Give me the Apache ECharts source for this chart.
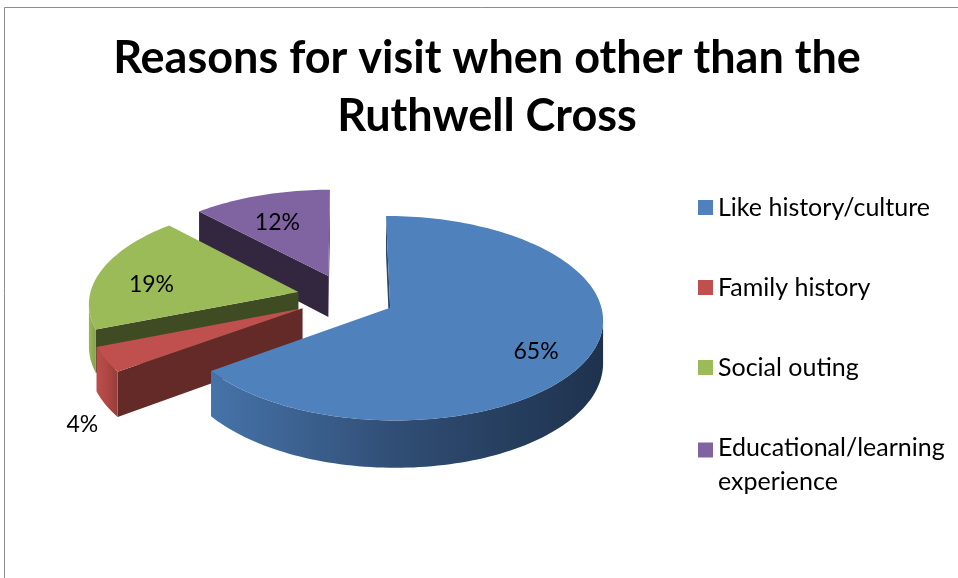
<!DOCTYPE html>
<html>
<head>
<meta charset="utf-8">
<script src="https://cdn.jsdelivr.net/npm/echarts@6/dist/echarts.min.js"></script>
<style>
  html, body { margin: 0; padding: 0; background: #fff; }
  #chart { width: 958px; height: 578px; }
</style>
</head>
<body>
<div id="chart"></div>
<script>
// Survey answers: share of visitors (%) per reason
const categories = ['Like history/culture', 'Family history', 'Social outing', 'Educational/learning experience'];
const shares = [65, 4, 19, 12];
const titleText = 'Reasons for visit when other than the\nRuthwell Cross';

// Face colours: top surface, cut (radial) faces, outer rim gradient
const topColors = ['#4F81BD', '#C0504D', '#9BBB59', '#8064A2'];
const cutColors = ['#2B476B', '#632A28', '#3F4B23', '#33263F'];
const rimColors = [
  ['#4673A9', '#2F4C72', '#1E324D'],
  ['#BC4E4B', '#AE4744', '#963D3A'],
  ['#99B958', '#8FAD52', '#84A04B'],
  ['#7560A0', '#5F4A7C', '#4A3A62']
];

// Tilted, slightly perspective view of the pie disc
const view = { cx: 346, cy: 297, r: 209, k: 0.4736, dist: 2050, depth: 42, explode: 49 };

function project(X, Y, Z) {
  const s = view.dist / (view.dist - Y);
  return [view.cx + X * s, view.cy + (Y * view.k - Z * view.depth) * s];
}

const total = shares.reduce((a, b) => a + b, 0);
const startAngles = [];
shares.reduce((acc, v, i) => { startAngles[i] = acc / total * 2 * Math.PI; return acc + v; }, 0);

function sliceRange(i) {
  return [startAngles[i], startAngles[i] + shares[i] / total * 2 * Math.PI];
}

// Back-to-front drawing order: the slice holding the front point goes last
const drawRank = (function () {
  const keys = shares.map((v, i) => {
    const [a0, a1] = sliceRange(i);
    const mid = (a0 + a1) / 2;
    const holdsFront = a0 <= Math.PI && a1 >= Math.PI;
    return holdsFront ? 10 : -Math.cos(mid);
  });
  const order = keys.map((k, i) => i).sort((a, b) => keys[a] - keys[b]);
  const rank = [];
  order.forEach((idx, r) => { rank[idx] = r; });
  return rank;
})();

function wrapName(name) {
  if (name.length <= 22) return name;
  const cut = name.lastIndexOf(' ', 22);
  return cut > 0 ? name.slice(0, cut) + '\n' + name.slice(cut + 1) : name;
}

// Legend markers: a square centred on one-line entries, beside the first line of wrapped ones
const LEGEND_BOX = 49;
const markerCentred = 'path://M0,0h15v15h-15zM0,-17M0,32';
const markerFirstLine = 'path://M0,0h15v15h-15zM0,-2.5M0,46.5';

function legendEntry(name) {
  if (wrapName(name) === name) return { name: name, icon: markerCentred };
  return { name: name, icon: markerFirstLine, textStyle: { padding: [15, 0, 0, 0] } };
}

function renderSlice(i) {
  const [a0, a1] = sliceRange(i);
  const mid = (a0 + a1) / 2;
  const ox = view.explode * Math.sin(mid);
  const oy = -view.explode * Math.cos(mid);
  const rimPt = (t, rr) => [ox + rr * Math.sin(t), oy - rr * Math.cos(t)];
  const n = Math.max(8, Math.ceil((a1 - a0) / (Math.PI / 120)));
  const ts = [];
  for (let j = 0; j <= n; j++) ts.push(a0 + (a1 - a0) * j / n);

  // a vertical face is visible when its outward normal points towards the eye
  const facing = (px, py, nx, ny) => nx * (0 - px) + ny * (view.dist - py) > 0;
  const children = [];

  // cut faces along the two radii
  [[a0, -1], [a1, 1]].forEach(([a, sgn]) => {
    const nx = sgn * Math.cos(a), ny = sgn * Math.sin(a);
    const [rx, ry] = rimPt(a, view.r);
    if (facing((ox + rx) / 2, (oy + ry) / 2, nx, ny)) {
      children.push({
        type: 'polygon',
        shape: { points: [project(ox, oy, 0), project(rx, ry, 0), project(rx, ry, -1), project(ox, oy, -1)] },
        style: { fill: cutColors[i] }
      });
    }
  });

  // outer rim, split into its visible runs
  let run = [];
  const flush = () => {
    if (run.length >= 2) {
      const upper = run.map(t => { const p = rimPt(t, view.r); return project(p[0], p[1], 0); });
      const lower = run.slice().reverse().map(t => { const p = rimPt(t, view.r); return project(p[0], p[1], -1); });
      const c = rimColors[i];
      children.push({
        type: 'polygon',
        shape: { points: upper.concat(lower) },
        style: {
          fill: new echarts.graphic.LinearGradient(0, 0, 1, 0, [
            { offset: 0, color: c[0] }, { offset: 0.5, color: c[1] }, { offset: 1, color: c[2] }
          ])
        }
      });
    }
    run = [];
  };
  ts.forEach(t => {
    const p = rimPt(t, view.r);
    if (facing(p[0], p[1], Math.sin(t), -Math.cos(t))) run.push(t); else flush();
  });
  flush();

  // top surface
  const topPts = [project(ox, oy, 0)].concat(ts.map(t => { const p = rimPt(t, view.r); return project(p[0], p[1], 0); }));
  children.push({ type: 'polygon', shape: { points: topPts }, style: { fill: topColors[i] } });

  // percentage label: inside the slice, or below the rim for thin slices
  const frac = shares[i] / total;
  let lp;
  if (frac < 0.05) {
    const p = rimPt(mid, view.r * 1.11);
    lp = project(p[0], p[1], -1.3);
  } else {
    const p = rimPt(mid, view.r * 0.74);
    lp = project(p[0], p[1], -0.2);
  }
  children.push({
    type: 'text',
    x: lp[0], y: lp[1],
    z2: 20,
    style: {
      text: Math.round(frac * 100) + '%',
      fill: '#000',
      fontFamily: 'Lato',
      fontSize: 23,
      align: 'center',
      verticalAlign: 'middle'
    }
  });
  return { type: 'group', children: children };
}

const chart = echarts.init(document.getElementById('chart'), null, { renderer: 'canvas' });

chart.setOption({
  animation: false,
  backgroundColor: '#fff',
  color: topColors,
  title: {
    text: titleText,
    left: 487,
    top: 29,
    padding: 0,
    textAlign: 'center',
    textStyle: { fontFamily: 'Lato', fontWeight: 'bold', fontSize: 45, lineHeight: 58, color: '#000' }
  },
  legend: {
    orient: 'vertical',
    left: 693,
    top: 178,
    itemWidth: 15,
    itemHeight: LEGEND_BOX,
    itemGap: 31,
    selectedMode: false,
    formatter: wrapName,
    textStyle: { fontFamily: 'Lato', fontSize: 25, lineHeight: 34, color: '#000' },
    data: categories.map(legendEntry)
  },
  graphic: [{
    type: 'rect',
    silent: true,
    z: 0,
    shape: { x: 4.5, y: 7.5, width: 1200, height: 1200 },
    style: { fill: 'none', stroke: '#8c8c8c', lineWidth: 1 }
  }],
  series: categories.map((name, i) => ({
    type: 'custom',
    name: name,
    coordinateSystem: 'none',
    z: 2 + drawRank[i],
    silent: true,
    itemStyle: { color: topColors[i] },
    data: [shares[i]],
    renderItem: () => renderSlice(i)
  }))
});
</script>
</body>
</html>
